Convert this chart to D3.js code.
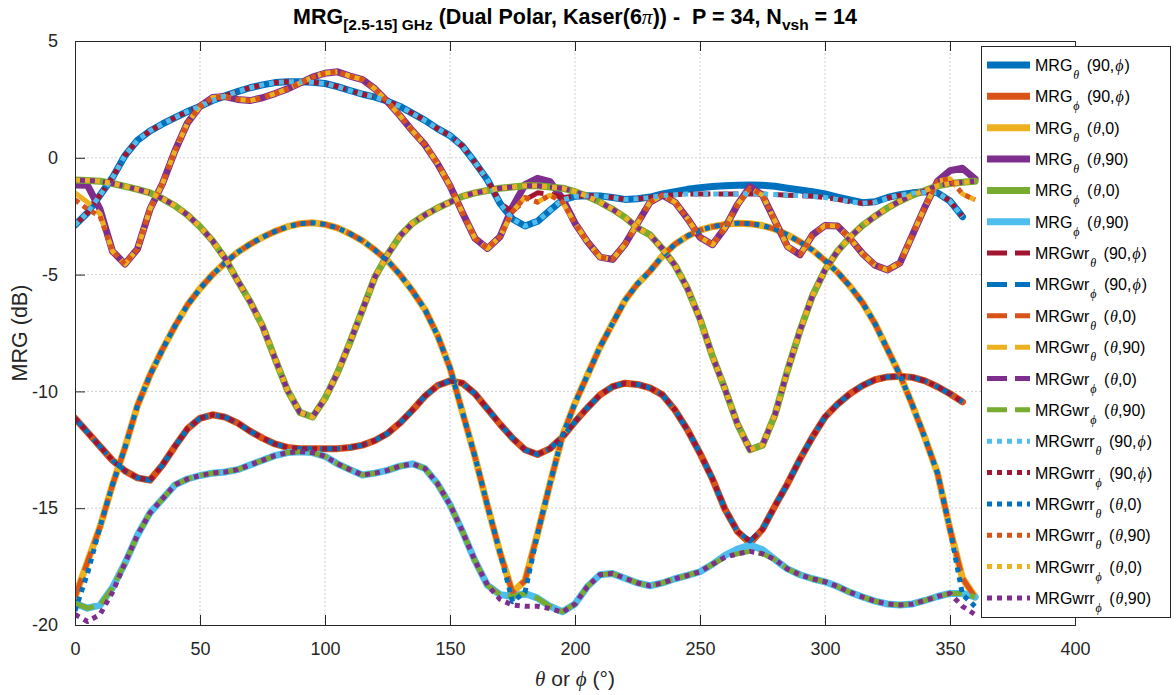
<!DOCTYPE html>
<html><head><meta charset="utf-8">
<script src="https://cdn.jsdelivr.net/npm/d3@7/dist/d3.min.js"></script>
<style>body{margin:0;background:#fff}svg{display:block}</style>
</head><body>
<svg id="chart" width="1176" height="695"></svg>
<script>
// ---------- DATA ----------
const angleTheta = [0,5,10,15,20,25,30,35,40,45,50,55,60,65,70,75,80,85,90,95,100,105,110,115,120,125,130,135,140,145,150,155,160,165,170,175,180,185,190,195,200,205,210,215,220,225,230,235,240,245,250,255,260,265,270,275,280,285,290,295,300,305,310,315,320,325,330,335,340,345,350,355,360];
const anglePhi = angleTheta.slice(0, 72);
const xTicks = [0,50,100,150,200,250,300,350,400];
const yTicks = [-20,-15,-10,-5,0,5];

// MRG (solid)
const mrgTheta_90phi = [-2.88,-2.35,-1.6,-0.85,0.1,0.75,1.15,1.45,1.72,1.98,2.2,2.45,2.65,2.83,3.0,3.12,3.22,3.26,3.26,3.23,3.18,3.05,2.88,2.72,2.6,2.42,2.2,1.9,1.6,1.25,0.95,0.5,-0.2,-0.95,-1.95,-2.62,-2.92,-2.72,-2.25,-1.8,-1.65,-1.62,-1.63,-1.7,-1.78,-1.75,-1.68,-1.55,-1.45,-1.35,-1.28,-1.23,-1.2,-1.17,-1.16,-1.18,-1.22,-1.3,-1.38,-1.45,-1.55,-1.68,-1.8,-1.92,-1.88,-1.7,-1.58,-1.5,-1.45,-1.5,-1.85,-2.52];
const mrgPhi_90phi = [-11.15,-11.75,-12.35,-12.95,-13.4,-13.7,-13.8,-13.15,-12.35,-11.6,-11.15,-11.0,-11.1,-11.35,-11.7,-12.0,-12.25,-12.4,-12.45,-12.45,-12.45,-12.45,-12.4,-12.3,-12.1,-11.8,-11.35,-10.8,-10.2,-9.75,-9.55,-9.65,-10.1,-10.75,-11.4,-12.0,-12.5,-12.7,-12.45,-11.95,-11.3,-10.7,-10.15,-9.8,-9.65,-9.7,-9.85,-10.15,-10.8,-11.65,-12.65,-13.75,-15.05,-16.0,-16.5,-15.9,-14.9,-13.95,-12.9,-11.95,-11.1,-10.55,-10.1,-9.75,-9.5,-9.38,-9.35,-9.4,-9.55,-9.8,-10.1,-10.45];
const mrgTheta_th0 = [-18.8,-17.3,-15.8,-14.0,-12.4,-10.6,-9.3,-8.2,-7.2,-6.3,-5.6,-5.0,-4.5,-4.05,-3.7,-3.4,-3.15,-2.95,-2.82,-2.78,-2.85,-3.0,-3.25,-3.55,-3.95,-4.4,-5.0,-5.7,-6.5,-7.6,-9.0,-10.9,-12.8,-14.9,-16.9,-18.6,-18.1,-16.1,-13.95,-11.9,-10.5,-9.3,-8.1,-7.1,-6.1,-5.4,-4.85,-4.2,-3.7,-3.35,-3.1,-2.95,-2.85,-2.8,-2.82,-2.9,-3.05,-3.3,-3.6,-3.95,-4.4,-4.9,-5.5,-6.2,-7.1,-8.2,-9.3,-10.6,-12.0,-13.5,-15.9,-18.0,-18.8];
const mrgTheta_th90 = [-1.16,-1.18,-2.2,-4.0,-4.55,-3.9,-2.2,-1.1,0.3,1.5,2.2,2.58,2.62,2.5,2.45,2.57,2.75,2.95,3.2,3.45,3.62,3.68,3.5,3.35,2.95,2.4,1.8,1.15,0.55,-0.25,-1.2,-2.35,-3.45,-3.88,-3.38,-2.1,-1.15,-0.88,-1.02,-1.75,-2.8,-3.6,-4.25,-4.35,-3.7,-2.8,-1.9,-1.6,-1.9,-2.6,-3.4,-3.72,-3.0,-2.0,-1.24,-1.6,-2.7,-3.8,-4.15,-3.3,-2.9,-2.92,-3.45,-4.1,-4.6,-4.8,-4.5,-3.3,-2.1,-1.0,-0.55,-0.45,-0.9];
const mrgPhi_th0 = [-0.95,-0.97,-1.0,-1.1,-1.22,-1.35,-1.5,-1.75,-2.05,-2.45,-2.95,-3.55,-4.3,-5.25,-6.15,-7.2,-8.6,-9.95,-10.9,-11.1,-10.3,-9.2,-7.9,-6.5,-5.1,-4.15,-3.35,-2.8,-2.45,-2.15,-1.9,-1.65,-1.5,-1.4,-1.3,-1.25,-1.2,-1.2,-1.25,-1.3,-1.45,-1.65,-1.9,-2.2,-2.55,-3.0,-3.3,-3.9,-4.6,-5.6,-6.9,-8.5,-9.9,-11.4,-12.5,-12.3,-11.0,-9.1,-7.4,-5.9,-4.8,-4.0,-3.4,-2.9,-2.5,-2.15,-1.85,-1.6,-1.4,-1.2,-1.1,-1.05,-1.0];
const mrgPhi_th90 = [-19.07,-19.28,-19.15,-18.4,-17.35,-16.15,-15.2,-14.6,-14.0,-13.75,-13.6,-13.5,-13.45,-13.35,-13.15,-12.95,-12.75,-12.62,-12.58,-12.62,-12.78,-13.1,-13.35,-13.58,-13.5,-13.38,-13.2,-13.1,-13.3,-13.95,-14.85,-16.0,-17.25,-18.3,-18.7,-18.78,-18.65,-18.85,-19.2,-19.43,-19.1,-18.35,-17.85,-17.8,-18.0,-18.2,-18.32,-18.2,-18.02,-17.88,-17.72,-17.4,-17.02,-16.75,-16.58,-16.78,-17.2,-17.6,-17.85,-18.02,-18.15,-18.35,-18.6,-18.8,-18.98,-19.1,-19.14,-19.1,-18.95,-18.78,-18.65,-18.65,-18.8];

// MRGwr (dashed)
const wrTheta_90phi = [-2.88,-2.35,-1.6,-0.85,0.1,0.75,1.15,1.45,1.72,1.98,2.2,2.45,2.65,2.83,3.0,3.12,3.22,3.26,3.26,3.23,3.18,3.05,2.88,2.72,2.6,2.42,2.2,1.9,1.6,1.25,0.95,0.5,-0.2,-0.95,-1.95,-2.3,-1.8,-1.5,-1.55,-1.7,-1.65,-1.62,-1.63,-1.7,-1.78,-1.75,-1.7,-1.62,-1.58,-1.55,-1.55,-1.55,-1.55,-1.55,-1.55,-1.55,-1.57,-1.6,-1.62,-1.65,-1.7,-1.78,-1.88,-1.95,-1.9,-1.72,-1.6,-1.52,-1.47,-1.5,-1.85,-2.52];
const wrPhi_90phi = [-11.15,-11.75,-12.35,-12.95,-13.4,-13.7,-13.8,-13.15,-12.35,-11.6,-11.15,-11.0,-11.1,-11.35,-11.7,-12.0,-12.25,-12.4,-12.45,-12.45,-12.45,-12.45,-12.4,-12.3,-12.1,-11.8,-11.35,-10.8,-10.2,-9.75,-9.55,-9.65,-10.1,-10.75,-11.4,-12.0,-12.5,-12.7,-12.45,-11.95,-11.3,-10.7,-10.15,-9.8,-9.65,-9.7,-9.85,-10.15,-10.8,-11.65,-12.65,-13.75,-15.05,-16.0,-16.4,-15.9,-14.9,-13.95,-12.9,-11.95,-11.1,-10.55,-10.1,-9.75,-9.5,-9.38,-9.35,-9.4,-9.55,-9.8,-10.1,-10.45];
const wrTheta_th0 = [-18.8,-17.3,-15.8,-14.0,-12.4,-10.6,-9.3,-8.2,-7.2,-6.3,-5.6,-5.0,-4.5,-4.05,-3.7,-3.4,-3.15,-2.95,-2.82,-2.78,-2.85,-3.0,-3.25,-3.55,-3.95,-4.4,-5.0,-5.7,-6.5,-7.6,-9.0,-10.9,-12.8,-14.9,-16.9,-18.6,-18.1,-16.1,-13.95,-11.9,-10.5,-9.3,-8.1,-7.1,-6.1,-5.4,-4.85,-4.2,-3.7,-3.35,-3.1,-2.95,-2.85,-2.8,-2.82,-2.9,-3.05,-3.3,-3.6,-3.95,-4.4,-4.9,-5.5,-6.2,-7.1,-8.2,-9.3,-10.6,-12.0,-13.5,-15.9,-18.0,-18.8];
const wrTheta_th90 = [-1.5,-1.9,-2.4,-4.0,-4.55,-3.9,-2.2,-1.1,0.3,1.5,2.2,2.58,2.62,2.5,2.45,2.57,2.75,2.95,3.2,3.45,3.62,3.68,3.5,3.35,2.95,2.4,1.8,1.15,0.55,-0.25,-1.2,-2.35,-3.45,-3.88,-3.38,-2.3,-1.7,-1.9,-1.6,-1.9,-2.8,-3.6,-4.25,-4.35,-3.7,-2.8,-1.9,-1.6,-1.9,-2.6,-3.4,-3.72,-3.0,-2.0,-1.3,-1.6,-2.7,-3.8,-4.15,-3.3,-2.9,-2.92,-3.45,-4.1,-4.6,-4.8,-4.5,-3.3,-2.1,-1.0,-0.9,-1.55,-1.8];
const wrPhi_th0 = [-0.95,-0.97,-1.0,-1.1,-1.22,-1.35,-1.5,-1.75,-2.05,-2.45,-2.95,-3.55,-4.3,-5.25,-6.15,-7.2,-8.6,-9.95,-10.9,-11.1,-10.3,-9.2,-7.9,-6.5,-5.1,-4.15,-3.35,-2.8,-2.45,-2.15,-1.9,-1.65,-1.5,-1.4,-1.3,-1.25,-1.2,-1.2,-1.25,-1.3,-1.45,-1.65,-1.9,-2.2,-2.55,-3.0,-3.3,-3.9,-4.6,-5.6,-6.9,-8.5,-9.9,-11.4,-12.5,-12.3,-11.0,-9.1,-7.4,-5.9,-4.8,-4.0,-3.4,-2.9,-2.5,-2.15,-1.85,-1.6,-1.4,-1.2,-1.1,-1.05,-1.0];
const wrPhi_th90 = [-19.07,-19.28,-19.15,-18.4,-17.35,-16.15,-15.2,-14.6,-14.0,-13.75,-13.6,-13.5,-13.45,-13.35,-13.15,-12.95,-12.75,-12.62,-12.58,-12.62,-12.78,-13.1,-13.35,-13.58,-13.5,-13.38,-13.2,-13.1,-13.3,-13.95,-14.85,-16.0,-17.25,-18.3,-18.7,-18.78,-18.65,-18.85,-19.2,-19.43,-19.1,-18.35,-17.85,-17.8,-18.0,-18.2,-18.32,-18.2,-18.02,-17.88,-17.72,-17.4,-17.1,-16.95,-16.85,-16.95,-17.2,-17.6,-17.85,-18.02,-18.15,-18.35,-18.6,-18.8,-18.98,-19.1,-19.14,-19.1,-18.95,-18.78,-18.65,-18.65,-18.8];

// MRGwrr (dotted)
const wrrTheta_90phi = [-2.88,-2.35,-1.6,-0.85,0.1,0.75,1.15,1.45,1.72,1.98,2.2,2.45,2.65,2.83,3.0,3.12,3.22,3.26,3.26,3.23,3.18,3.05,2.88,2.72,2.6,2.42,2.2,1.9,1.6,1.25,0.95,0.5,-0.2,-0.95,-1.95,-2.62,-2.92,-2.72,-2.25,-1.8,-1.65,-1.62,-1.63,-1.7,-1.78,-1.75,-1.7,-1.62,-1.58,-1.55,-1.55,-1.55,-1.55,-1.55,-1.55,-1.55,-1.57,-1.6,-1.62,-1.65,-1.7,-1.78,-1.88,-1.95,-1.9,-1.72,-1.6,-1.52,-1.47,-1.5,-1.85,-2.52];
const wrrPhi_90phi = [-11.15,-11.75,-12.35,-12.95,-13.4,-13.7,-13.8,-13.15,-12.35,-11.6,-11.15,-11.0,-11.1,-11.35,-11.7,-12.0,-12.25,-12.4,-12.45,-12.45,-12.45,-12.45,-12.4,-12.3,-12.1,-11.8,-11.35,-10.8,-10.2,-9.75,-9.55,-9.65,-10.1,-10.75,-11.4,-12.0,-12.5,-12.7,-12.45,-11.95,-11.3,-10.7,-10.15,-9.8,-9.65,-9.7,-9.85,-10.15,-10.8,-11.65,-12.65,-13.75,-15.05,-16.0,-16.4,-15.9,-14.9,-13.95,-12.9,-11.95,-11.1,-10.55,-10.1,-9.75,-9.5,-9.38,-9.35,-9.4,-9.55,-9.8,-10.1,-10.45];
const wrrTheta_th0 = [-19.4,-17.8,-15.8,-14.0,-12.4,-10.6,-9.3,-8.2,-7.2,-6.3,-5.6,-5.0,-4.5,-4.05,-3.7,-3.4,-3.15,-2.95,-2.82,-2.78,-2.85,-3.0,-3.25,-3.55,-3.95,-4.4,-5.0,-5.7,-6.5,-7.6,-9.0,-10.9,-12.8,-14.9,-16.9,-19.0,-18.6,-16.1,-13.95,-11.9,-10.5,-9.3,-8.1,-7.1,-6.1,-5.4,-4.85,-4.2,-3.7,-3.35,-3.1,-2.95,-2.85,-2.8,-2.82,-2.9,-3.05,-3.3,-3.6,-3.95,-4.4,-4.9,-5.5,-6.2,-7.1,-8.2,-9.3,-10.6,-12.0,-13.5,-15.9,-18.7,-19.2];
const wrrTheta_th90 = [-1.8,-2.2,-2.5,-4.0,-4.55,-3.9,-2.2,-1.1,0.3,1.5,2.2,2.58,2.62,2.5,2.45,2.57,2.75,2.95,3.2,3.45,3.62,3.68,3.5,3.35,2.95,2.4,1.8,1.15,0.55,-0.25,-1.2,-2.35,-3.45,-3.88,-3.38,-2.3,-1.7,-1.9,-1.6,-1.9,-2.8,-3.6,-4.25,-4.35,-3.7,-2.8,-1.9,-1.6,-1.9,-2.6,-3.4,-3.72,-3.0,-2.0,-1.3,-1.6,-2.7,-3.8,-4.15,-3.3,-2.9,-2.92,-3.45,-4.1,-4.6,-4.8,-4.5,-3.3,-2.1,-1.0,-0.9,-1.55,-1.8];
const wrrPhi_th0 = [-0.95,-0.97,-1.0,-1.1,-1.22,-1.35,-1.5,-1.75,-2.05,-2.45,-2.95,-3.55,-4.3,-5.25,-6.15,-7.2,-8.6,-9.95,-10.9,-11.1,-10.3,-9.2,-7.9,-6.5,-5.1,-4.15,-3.35,-2.8,-2.45,-2.15,-1.9,-1.65,-1.5,-1.4,-1.3,-1.25,-1.2,-1.2,-1.25,-1.3,-1.45,-1.65,-1.9,-2.2,-2.55,-3.0,-3.3,-3.9,-4.6,-5.6,-6.9,-8.5,-9.9,-11.4,-12.5,-12.3,-11.0,-9.1,-7.4,-5.9,-4.8,-4.0,-3.4,-2.9,-2.5,-2.15,-1.85,-1.6,-1.4,-1.2,-1.1,-1.05,-1.0];
const wrrPhi_th90 = [-19.55,-19.85,-19.55,-18.6,-17.35,-16.15,-15.2,-14.6,-14.0,-13.75,-13.6,-13.5,-13.45,-13.35,-13.15,-12.95,-12.75,-12.62,-12.58,-12.62,-12.78,-13.1,-13.35,-13.58,-13.5,-13.38,-13.2,-13.1,-13.3,-13.95,-14.85,-16.0,-17.25,-18.3,-18.9,-19.15,-19.2,-19.2,-19.3,-19.45,-19.1,-18.35,-17.85,-17.8,-18.0,-18.2,-18.32,-18.2,-18.02,-17.88,-17.72,-17.4,-17.1,-16.95,-16.85,-16.95,-17.2,-17.6,-17.85,-18.02,-18.15,-18.35,-18.6,-18.8,-18.98,-19.1,-19.14,-19.1,-18.95,-18.78,-18.65,-19.2,-19.55];

// ---------- STYLE ----------
const C = {blue:"#0072BD", orange:"#D95319", yellow:"#EDB120", purple:"#7E2F8E", green:"#77AC30", lblue:"#4DBEEE", dred:"#A2142F"};
const STY = {
  solid:  {w:7, dash:null},
  dashed: {w:5, dash:"20,8"},
  dotted: {w:5, dash:"5,5"}
};

const series = [
  {base:"MRG", sub:"θ", arg:"90phi", x:anglePhi, y:mrgTheta_90phi, c:C.blue, s:"solid"},
  {base:"MRG", sub:"ϕ", arg:"90phi", x:anglePhi, y:mrgPhi_90phi, c:C.orange, s:"solid"},
  {base:"MRG", sub:"θ", arg:"th0", x:angleTheta, y:mrgTheta_th0, c:C.yellow, s:"solid"},
  {base:"MRG", sub:"θ", arg:"th90", x:angleTheta, y:mrgTheta_th90, c:C.purple, s:"solid"},
  {base:"MRG", sub:"ϕ", arg:"th0", x:angleTheta, y:mrgPhi_th0, c:C.green, s:"solid"},
  {base:"MRG", sub:"ϕ", arg:"th90", x:angleTheta, y:mrgPhi_th90, c:C.lblue, s:"solid"},
  {base:"MRGwr", sub:"θ", arg:"90phi", x:anglePhi, y:wrTheta_90phi, c:C.dred, s:"dashed"},
  {base:"MRGwr", sub:"ϕ", arg:"90phi", x:anglePhi, y:wrPhi_90phi, c:C.blue, s:"dashed"},
  {base:"MRGwr", sub:"θ", arg:"th0", x:angleTheta, y:wrTheta_th0, c:C.orange, s:"dashed"},
  {base:"MRGwr", sub:"θ", arg:"th90", x:angleTheta, y:wrTheta_th90, c:C.yellow, s:"dashed"},
  {base:"MRGwr", sub:"ϕ", arg:"th0", x:angleTheta, y:wrPhi_th0, c:C.purple, s:"dashed"},
  {base:"MRGwr", sub:"ϕ", arg:"th90", x:angleTheta, y:wrPhi_th90, c:C.green, s:"dashed"},
  {base:"MRGwrr", sub:"θ", arg:"90phi", x:anglePhi, y:wrrTheta_90phi, c:C.lblue, s:"dotted"},
  {base:"MRGwrr", sub:"ϕ", arg:"90phi", x:anglePhi, y:wrrPhi_90phi, c:C.dred, s:"dotted"},
  {base:"MRGwrr", sub:"θ", arg:"th0", x:angleTheta, y:wrrTheta_th0, c:C.blue, s:"dotted"},
  {base:"MRGwrr", sub:"θ", arg:"th90", x:angleTheta, y:wrrTheta_th90, c:C.orange, s:"dotted"},
  {base:"MRGwrr", sub:"ϕ", arg:"th0", x:angleTheta, y:wrrPhi_th0, c:C.yellow, s:"dotted"},
  {base:"MRGwrr", sub:"ϕ", arg:"th90", x:angleTheta, y:wrrPhi_th90, c:C.purple, s:"dotted"}
];

// ---------- CHART ----------
const svg = d3.select("#chart");
const L = 75, R = 1075, T = 41, B = 625;
const x = d3.scaleLinear().domain([0,400]).range([L,R]);
const y = d3.scaleLinear().domain([-20,5]).range([B,T]);
const AX = "#262626";
const SANS = "'Liberation Sans', Arial, Helvetica, sans-serif";
const GREEK = "'Liberation Serif', 'DejaVu Serif', serif";

svg.append("rect").attr("width",1176).attr("height",695).attr("fill","#fff");

// grid
const grid = svg.append("g");
grid.selectAll("line.gx").data(xTicks.filter(d=>d>0&&d<400)).join("line")
  .attr("x1",d=>x(d)).attr("x2",d=>x(d)).attr("y1",T).attr("y2",B)
  .attr("stroke","#cfcfcf").attr("stroke-width",1).attr("stroke-dasharray","2,2");
grid.selectAll("line.gy").data(yTicks.filter(d=>d>-20&&d<5)).join("line")
  .attr("x1",L).attr("x2",R).attr("y1",d=>y(d)).attr("y2",d=>y(d))
  .attr("stroke","#cfcfcf").attr("stroke-width",1).attr("stroke-dasharray","2,2");

// lines
svg.append("clipPath").attr("id","clipA").append("rect")
  .attr("x",L).attr("y",T).attr("width",R-L).attr("height",B-T);
const lineGen = d3.line().curve(d3.curveLinear);
const plot = svg.append("g").attr("clip-path","url(#clipA)");
series.forEach(s => {
  const pts = s.x.map((a,i)=>[x(a), y(s.y[i])]);
  const st = STY[s.s];
  plot.append("path").attr("d", lineGen(pts))
    .attr("fill","none").attr("stroke",s.c).attr("stroke-width",st.w)
    .attr("stroke-linejoin","round")
    .attr("stroke-linecap", s.s==="solid" ? "round" : "butt")
    .attr("stroke-dasharray", st.dash);
});

// axes (box with inward ticks)
const ax = svg.append("g");
const fmt = d => String(d);
const xAxB = d3.axisBottom(x).tickValues(xTicks).tickSize(-10).tickPadding(17).tickFormat(fmt);
const xAxT = d3.axisTop(x).tickValues(xTicks).tickSize(-10).tickFormat("");
const yAxL = d3.axisLeft(y).tickValues(yTicks).tickSize(-10).tickPadding(17).tickFormat(fmt);
const yAxR = d3.axisRight(y).tickValues(yTicks).tickSize(-10).tickFormat("");
[[xAxB,`translate(0,${B})`],[xAxT,`translate(0,${T})`],[yAxL,`translate(${L},0)`],[yAxR,`translate(${R},0)`]].forEach(([a,t])=>{
  const g = ax.append("g").attr("transform",t).call(a);
  g.select(".domain").attr("stroke",AX).attr("stroke-width",1);
  g.selectAll(".tick line").attr("stroke",AX).attr("stroke-width",1);
  g.selectAll(".tick text").attr("fill",AX).attr("font-family",SANS).attr("font-size",18);
});

// title
const title = svg.append("text").attr("x",575).attr("y",24).attr("text-anchor","middle")
  .attr("font-family",SANS).attr("font-weight","bold").attr("font-size",21.5).attr("fill","#000")
  .style("white-space","pre");
title.append("tspan").text("MRG");
title.append("tspan").attr("dy",6).attr("font-size",15.5).text("[2.5-15] GHz");
title.append("tspan").attr("dy",-6).text(" (Dual Polar, Kaser(6");
title.append("tspan").attr("font-family",GREEK).attr("font-style","italic").attr("font-weight","normal").text("π");
title.append("tspan").text(")) -  P = 34, N");
title.append("tspan").attr("dy",6).attr("font-size",15.5).text("vsh");
title.append("tspan").attr("dy",-6).text(" = 14");

// axis labels
const xl = svg.append("text").attr("x",575).attr("y",686).attr("text-anchor","middle")
  .attr("font-family",SANS).attr("font-size",21).attr("fill",AX).style("white-space","pre");
xl.append("tspan").attr("font-family",GREEK).attr("font-style","italic").text("θ");
xl.append("tspan").text(" or ");
xl.append("tspan").attr("font-family",GREEK).attr("font-style","italic").text("ϕ");
xl.append("tspan").text(" (°)");

svg.append("text").attr("transform",`translate(27,${(T+B)/2}) rotate(-90)`).attr("text-anchor","middle")
  .attr("font-family",SANS).attr("font-size",21.5).attr("fill",AX).text("MRG (dB)");

// legend
const lg = svg.append("g");
const LX = 981, LY = 46, LW = 189, LH = 571;
lg.append("rect").attr("x",LX+0.5).attr("y",LY+0.5).attr("width",LW).attr("height",LH)
  .attr("fill","#fff").attr("stroke",AX).attr("stroke-width",1);
const rowH = 31.35, row0 = 65;
series.forEach((s,i)=>{
  const yy = row0 + i*rowH;
  const st = STY[s.s];
  lg.append("line").attr("x1",987).attr("x2",1030).attr("y1",yy).attr("y2",yy)
    .attr("stroke",s.c).attr("stroke-width",st.w).attr("stroke-dasharray",st.dash);
  const t = lg.append("text").attr("x",1035).attr("y",yy+6).attr("font-family",SANS)
    .attr("font-size",16).attr("fill","#000").style("white-space","pre");
  t.append("tspan").text(s.base);
  t.append("tspan").attr("dy",8).attr("dx",1).attr("font-size",12).attr("font-family",GREEK).attr("font-style","italic").text(s.sub);
  if (s.arg==="90phi") {
    t.append("tspan").attr("dy",-8).attr("dx",3).text(" (90,");
    t.append("tspan").attr("font-family",GREEK).attr("font-style","italic").attr("dx",1).text("ϕ");
    t.append("tspan").attr("dx",1).text(")");
  } else {
    t.append("tspan").attr("dy",-8).attr("dx",3).text(" (");
    t.append("tspan").attr("font-family",GREEK).attr("font-style","italic").attr("dx",1).text("θ");
    t.append("tspan").text(s.arg==="th0" ? ",0)" : ",90)");
  }
});
</script>
</body></html>
